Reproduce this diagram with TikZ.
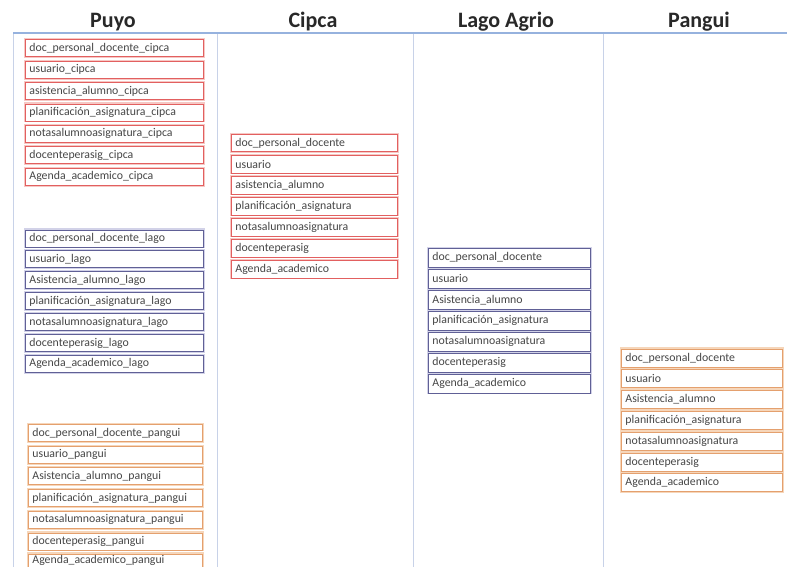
\documentclass[tikz,border=0pt]{standalone}
\usepackage{fontspec}
\setmainfont{Carlito}
\definecolor{hdrline}{RGB}{150,178,222}
\definecolor{colline}{RGB}{200,210,232}
\definecolor{redb}{RGB}{226,96,96}
\definecolor{redg}{RGB}{246,200,196}
\definecolor{blueb}{RGB}{96,96,150}
\definecolor{blueg}{RGB}{210,210,232}
\definecolor{orab}{RGB}{228,160,110}
\definecolor{orag}{RGB}{246,214,186}
\definecolor{txt}{RGB}{70,70,70}
\definecolor{hdr}{RGB}{40,40,40}
\tikzset{
  cell/.style={anchor=north west, fill=white, inner xsep=4pt, inner ysep=0pt,
    align=left, text=txt, font=\fontsize{11.8}{12}\selectfont, line width=0.9pt},
  redcell/.style={cell, draw=redb, preaction={draw=redg, line width=3pt}},
  bluecell/.style={cell, draw=blueb, preaction={draw=blueg, line width=3pt}},
  oracell/.style={cell, draw=orab, preaction={draw=orag, line width=3pt}},
  hdrtext/.style={anchor=base, text=hdr, font=\fontsize{22}{24}\selectfont\bfseries},
}
\begin{document}
\begin{tikzpicture}[x=1pt, y=-1pt]
\clip (0,0) rectangle (787,567);
\fill[white] (0,0) rectangle (787,567);
% headers
\node[hdrtext] (hpuyo) at (113,28) {Puyo};
\node[hdrtext] (hcipca) at (313,28) {Cipca};
\node[hdrtext] (hlago) at (506,28) {Lago Agrio};
\node[hdrtext] (hpangui) at (699,28) {Pangui};
% grid lines
\coordinate (tl) at (13,33);
\coordinate (tr) at (787,33);
\draw[colline, line width=0.9pt] (13,33) -- (13,567);
\draw[colline, line width=0.9pt] (217,33) -- (217,567);
\draw[colline, line width=0.9pt] (413,33) -- (413,567);
\draw[colline, line width=0.9pt] (603,33) -- (603,567);
\draw[hdrline, line width=1.2pt] (tl) -- (tr);
% Puyo - cipca tables
\foreach \t [count=\i] in {doc\_personal\_docente\_cipca, usuario\_cipca, asistencia\_alumno\_cipca, planificación\_asignatura\_cipca, notasalumnoasignatura\_cipca, docenteperasig\_cipca, Agenda\_academico\_cipca}
  \node[redcell, text width=170pt, minimum height=17pt] (pc\i) at (25,{39.5+21.35*(\i-1)}) {\t};
% Puyo - lago tables
\foreach \t [count=\i] in {doc\_personal\_docente\_lago, usuario\_lago, Asistencia\_alumno\_lago, planificación\_asignatura\_lago, notasalumnoasignatura\_lago, docenteperasig\_lago, Agenda\_academico\_lago}
  \node[bluecell, text width=170pt, minimum height=17pt] (pl\i) at (25,{229.5+20.9*(\i-1)}) {\t};
% Puyo - pangui tables
\foreach \t [count=\i] in {doc\_personal\_docente\_pangui, usuario\_pangui, Asistencia\_alumno\_pangui, planificación\_asignatura\_pangui, notasalumnoasignatura\_pangui, docenteperasig\_pangui}
  \node[oracell, text width=166pt, minimum height=17pt] (pp\i) at (28,{424+21.7*(\i-1)}) {\t};
\node[oracell, text width=166pt, minimum height=13pt, inner ysep=0pt] (pp7) at (28,553.5) {Agenda\_academico\_pangui};
% Cipca
\foreach \t [count=\i] in {doc\_personal\_docente, usuario, asistencia\_alumno, planificación\_asignatura, notasalumnoasignatura, docenteperasig, Agenda\_academico}
  \node[redcell, text width=158pt, minimum height=17.5pt] (c\i) at (231,{134+21*(\i-1)}) {\t};
% Lago Agrio
\foreach \t [count=\i] in {doc\_personal\_docente, usuario, Asistencia\_alumno, planificación\_asignatura, notasalumnoasignatura, docenteperasig, Agenda\_academico}
  \node[bluecell, text width=154pt, minimum height=18.5pt] (l\i) at (428,{248+21*(\i-1)}) {\t};
% Pangui
\foreach \t [count=\i] in {doc\_personal\_docente, usuario, Asistencia\_alumno, planificación\_asignatura, notasalumnoasignatura, docenteperasig, Agenda\_academico}
  \node[oracell, text width=153pt, minimum height=18pt] (g\i) at (621,{348.5+20.8*(\i-1)}) {\t};
\end{tikzpicture}
\end{document}
